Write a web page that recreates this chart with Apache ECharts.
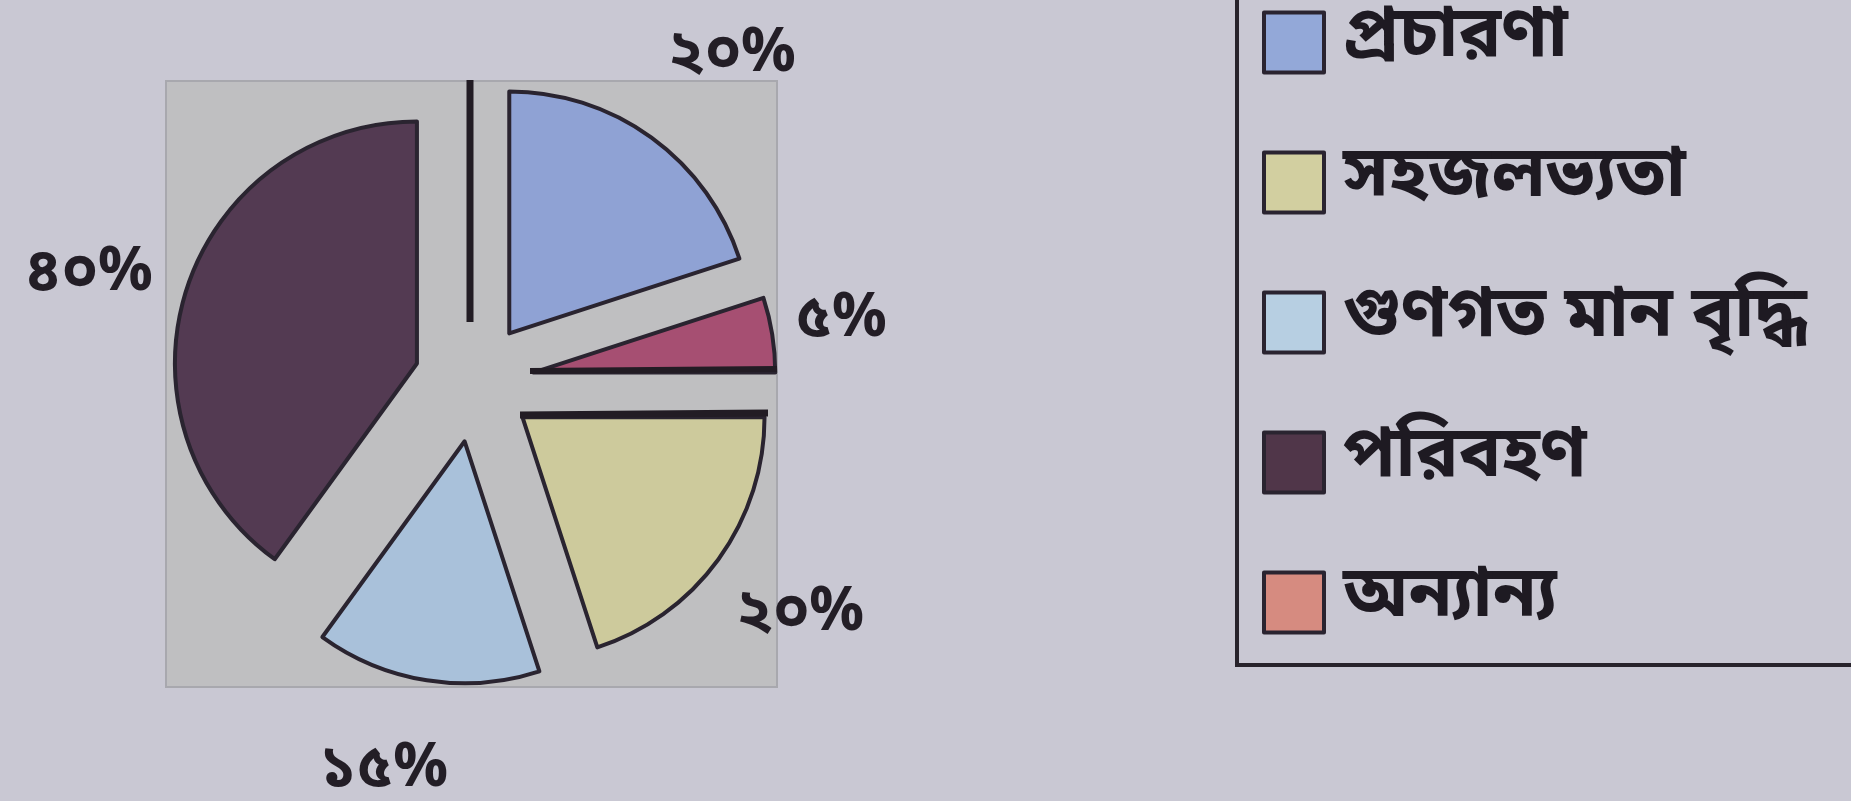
<!DOCTYPE html>
<html>
<head>
<meta charset="utf-8">
<script src="https://cdn.jsdelivr.net/npm/echarts@6/dist/echarts.min.js"></script>
<style>
  html, body { margin: 0; padding: 0; background: #c9c8d3; }
  #chart { width: 1851px; height: 801px; }
</style>
</head>
<body>
<div id="chart"></div>
<script>
// Slice order, clockwise from twelve o'clock
const categories = ['প্রচারণা', 'অন্যান্য', 'সহজলভ্যতা', 'গুণগত মান বৃদ্ধি', 'পরিবহণ'];
const shares = [20, 5, 20, 15, 40];
const sliceColors = ['#8fa2d4', '#a64f72', '#cdca9c', '#a9c1da', '#533a52'];

// Legend order and swatch colours
const legendNames = ['প্রচারণা', 'সহজলভ্যতা', 'গুণগত মান বৃদ্ধি', 'পরিবহণ', 'অন্যান্য'];
const legendColors = ['#93a8d8', '#d2cfa0', '#b7cfe2', '#503649', '#d68b80'];

const BN_DIGITS = ['০', '১', '২', '৩', '৪', '৫', '৬', '৭', '৮', '৯'];
function toBengali(n) {
  return String(n).replace(/[0-9]/g, d => BN_DIGITS[+d]);
}

const BN_FONT = "'Noto Sans Bengali', 'Noto Serif Bengali', 'Lohit Bengali', 'FreeSans', sans-serif";
const EDGE = '#2a2430';
const CENTER = [474, 382];

// small nudges for the hand-placed percentage labels, per slice
const labelNudge = [[21, 4], [-31, 6], [0, 0], [-27, -6], [-2, 21]];

const chart = echarts.init(document.getElementById('chart'), null, { renderer: 'canvas' });

chart.setOption({
  backgroundColor: '#c9c8d3',
  animation: false,
  graphic: [
    // plot area panel
    { type: 'rect', z: -10, shape: { x: 166, y: 81, width: 611, height: 606 },
      style: { fill: '#bfbfc1', stroke: '#a8a8ae', lineWidth: 2 } },
    // legend frame (top and right run off the page)
    { type: 'rect', z: 5, shape: { x: 1237, y: -20, width: 700, height: 685 },
      style: { fill: 'none', stroke: '#28232b', lineWidth: 4 } },
    // heavy rules printed across the pie
    { type: 'line', z: 100, shape: { x1: 470, y1: 80, x2: 470, y2: 322 },
      style: { stroke: '#221c24', lineWidth: 7 } },
    { type: 'line', z: 100, shape: { x1: 520, y1: 415, x2: 768, y2: 413 },
      style: { stroke: '#221c24', lineWidth: 7 } },
    { type: 'line', z: 100, shape: { x1: 530, y1: 371, x2: 777, y2: 369 },
      style: { stroke: '#221c24', lineWidth: 6 } }
  ],
  legend: {
    orient: 'vertical',
    left: 1257,
    top: 2,
    itemWidth: 60,
    itemHeight: 60,
    itemGap: 69,
    icon: 'rect',
    selectedMode: false,
    itemStyle: { borderColor: EDGE, borderWidth: 4 },
    textStyle: {
      fontFamily: BN_FONT, fontSize: 71, fontWeight: 'bold', color: '#1e1a22',
      lineHeight: 60, padding: [0, 0, 0, 14]
    },
    data: legendNames.map((n, i) => ({ name: n, itemStyle: { color: legendColors[i] } }))
  },
  series: [
    {
      type: 'pie',
      center: CENTER,
      radius: 242,
      startAngle: 90,
      clockwise: true,
      selectedMode: 'multiple',
      selectedOffset: 60,
      avoidLabelOverlap: false,
      label: { show: false },
      labelLine: { show: false },
      emphasis: { disabled: true },
      itemStyle: { borderColor: EDGE, borderWidth: 4 },
      select: { itemStyle: { borderColor: EDGE, borderWidth: 4 } },
      z: 2,
      data: categories.map((c, i) => ({
        name: c, value: shares[i], selected: true,
        itemStyle: { color: sliceColors[i] },
        select: { itemStyle: { color: sliceColors[i], borderColor: EDGE, borderWidth: 4 } }
      }))
    },
    {
      // invisible ring that carries the percentage labels
      type: 'pie',
      center: CENTER,
      radius: [380, 420],
      startAngle: 90,
      clockwise: true,
      silent: true,
      emphasis: { disabled: true },
      itemStyle: { color: 'rgba(0,0,0,0)', borderWidth: 0 },
      labelLine: { show: false },
      label: {
        show: true,
        position: 'inside',
        rotate: 0,
        formatter: p => toBengali(p.value) + '%',
        fontFamily: BN_FONT,
        fontSize: 60,
        fontWeight: 'bold',
        color: '#231e26'
      },
      z: 3,
      data: shares.map((v, i) => ({ value: v, label: { offset: labelNudge[i] } }))
    }
  ]
});
</script>
</body>
</html>
